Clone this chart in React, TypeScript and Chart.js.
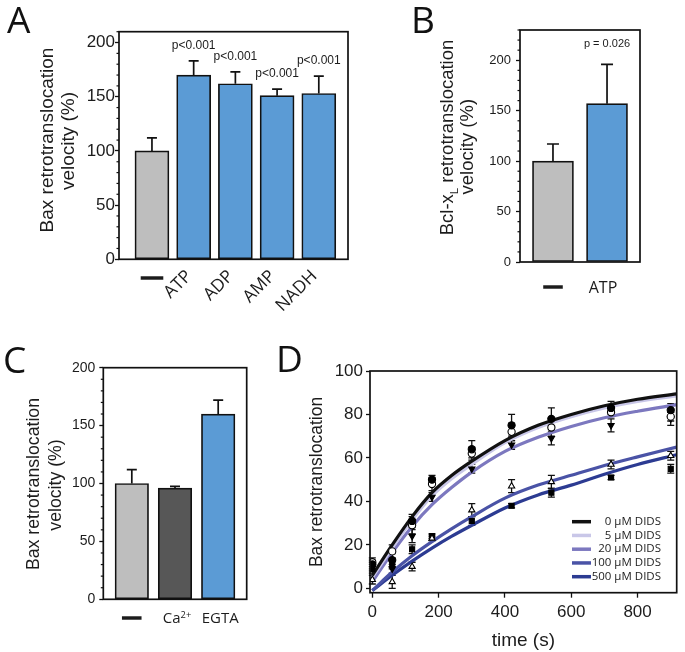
import React, { useEffect, useRef } from 'react';
import { Chart, registerables } from 'chart.js';

Chart.register(...registerables);

const SANS = "'Liberation Sans', Arial, Helvetica, sans-serif";
const MYR = "'Open Sans', 'Liberation Sans', sans-serif";
const INK = '#1c1c1c';
const GRAY = '#bebebe';
const DARK = '#575757';
const BLUE = '#5b9bd5';

// ---------- Panel A ----------
const aCategories = ['—', 'ATP', 'ADP', 'AMP', 'NADH'];
const aValues = [100, 170, 162, 151, 153];
const aErrors = [12, 13, 11, 6, 16];
const aPLabels = ['', 'p<0.001', 'p<0.001', 'p<0.001', 'p<0.001'];
const aColors = [GRAY, BLUE, BLUE, BLUE, BLUE];
const aYTitle = ['Bax retrotranslocation', 'velocity (%)'];

// ---------- Panel B ----------
const bCategories = ['—', 'ATP'];
const bValues = [100, 157];
const bErrors = [17, 39];
const bPLabels = ['', 'p = 0.026'];
const bColors = [GRAY, BLUE];
const bYTitleMain = ['Bcl-x', 'L', ' retrotranslocation']; // middle part is a subscript
const bYTitleSecond = 'velocity (%)';

// ---------- Panel C ----------
const cCategories = ['—', 'Ca²⁺', 'EGTA'];
const cValues = [100, 96, 160];
const cErrors = [12, 1.5, 12];
const cColors = [GRAY, DARK, BLUE];
const cYTitle = ['Bax retrotranslocation', 'velocity (%)'];

// ---------- Panel D ----------
const dTimes = [0, 60, 120, 180, 300, 420, 540, 720, 900];
const dSeries = ['0 µM DIDS', '5 µM DIDS', '20 µM DIDS', '100 µM DIDS', '500 µM DIDS'];
const dMean0 = [11, 13, 31, 50, 64, 75, 78, 83, 82];
const dMean5 = [12, 17, 29, 48, 62, 72, 74, 81, 79];
const dMean20 = [10, 9, 24, 42, 55, 66, 69, 75, 78];
const dMean100 = [4, 3, 10, 23, 36, 47, 49, 57, 61];
const dMean500 = [9, 11, 18, 24, 31, 38, 44, 51, 55];
const dErr0 = [2, 3, 3, 2, 4, 5, 5, 3, 3];
const dErr5 = [2, 3, 4, 3, 3, 4, 4, 2, 2];
const dErr20 = [2, 2, 3, 2, 2, 2, 3, 3, 3];
const dErr100 = [2, 3, 2, 1, 3, 3, 3, 2, 2];
const dErr500 = [2, 2, 2, 1, 2, 1, 2, 1, 2];
const dFitTimes = [0, 60, 120, 180, 240, 300, 400, 500, 600, 700, 800, 918];
const dFit0 = [6, 20, 33, 44, 52, 58.5, 68, 75, 80, 84, 87, 89.5];
const dFit5 = [5, 18.5, 31.5, 42.5, 50.5, 57, 67, 74, 79, 83, 86, 88.5];
const dFit20 = [3, 16.5, 28.5, 38.5, 46.5, 53.5, 63, 69.5, 74.5, 78.5, 81.5, 84.5];
const dFit100 = [-1, 7.5, 15, 21.5, 27.5, 33, 41.5, 47.5, 52, 56.5, 60.5, 65];
const dFit500 = [-1, 6, 12.5, 18.5, 24, 29, 37, 43, 47.5, 52.5, 57, 61.5];
const dYTitle = 'Bax retrotranslocation';
const dXTitle = 'time (s)';

const dMeans = [dMean0, dMean5, dMean20, dMean100, dMean500];
const dErrs = [dErr0, dErr5, dErr20, dErr100, dErr500];
const dFits = [dFit0, dFit5, dFit20, dFit100, dFit500];
const dColors = ['#111111', '#c9c7e8', '#7c78bf', '#4a53a6', '#2c3b92'];
const dStyles = ['circle', 'circle', 'triangle', 'triangle', 'rect'];
const dFills = ['#000', '#fff', '#000', '#fff', '#000'];
const dRot = [0, 0, 180, 0, 0];

// ---------- drawing helpers ----------
type Seg = { t: string; sub?: boolean; sup?: boolean };
const SUPMAP: Record<string, string> = { '²': '2', '³': '3', '⁺': '+', '⁻': '-' };

function toSegs(s: string): Seg[] {
  const out: Seg[] = [];
  for (const ch of s) {
    const sup = ch in SUPMAP;
    const t = sup ? SUPMAP[ch] : ch;
    const last = out[out.length - 1];
    if (last && !!last.sup === sup) last.t += t;
    else out.push({ t, sup });
  }
  return out;
}

function drawRich(
  ctx: CanvasRenderingContext2D, segs: Seg[], cx: number, cy: number, size: number,
  family: string, rot = 0, align: 'center' | 'right' = 'center', baseOffset = 0.35
) {
  ctx.save();
  ctx.translate(cx, cy);
  ctx.rotate(rot);
  const fontOf = (s: Seg) => `${s.sub || s.sup ? size * 0.62 : size}px ${family}`;
  let total = 0;
  for (const s of segs) { ctx.font = fontOf(s); total += ctx.measureText(s.t).width; }
  let x = align === 'center' ? -total / 2 : -total;
  const base = size * baseOffset;
  ctx.fillStyle = INK;
  ctx.textAlign = 'left';
  ctx.textBaseline = 'alphabetic';
  for (const s of segs) {
    ctx.font = fontOf(s);
    const dy = s.sub ? size * 0.22 : s.sup ? -size * 0.36 : 0;
    ctx.fillText(s.t, x, base + dy);
    x += ctx.measureText(s.t).width;
  }
  ctx.restore();
}

function drawDash(ctx: CanvasRenderingContext2D, text: string, cx: number, cy: number, size: number) {
  ctx.save();
  ctx.font = `bold ${size}px ${SANS}`;
  ctx.fillStyle = INK;
  ctx.strokeStyle = INK;
  ctx.lineWidth = 1.6;
  ctx.textAlign = 'center';
  ctx.textBaseline = 'middle';
  ctx.fillText(text, cx, cy);
  ctx.strokeText(text, cx, cy);
  ctx.restore();
}

function drawLetter(ctx: CanvasRenderingContext2D, letter: string, x: number, baseline: number) {
  ctx.save();
  ctx.font = `37px ${MYR}`;
  ctx.fillStyle = '#111';
  ctx.textAlign = 'left';
  ctx.textBaseline = 'alphabetic';
  ctx.fillText(letter, x, baseline);
  ctx.restore();
}

function drawBox(chart: any) {
  const { ctx, chartArea: a } = chart;
  ctx.save();
  ctx.strokeStyle = '#111';
  ctx.lineWidth = 1.7;
  ctx.strokeRect(a.left, a.top, a.right - a.left, a.bottom - a.top);
  ctx.restore();
}

function drawMinor(chart: any, step: number, major: number, len: number) {
  const { ctx, chartArea: a, scales: { y } } = chart;
  ctx.save();
  ctx.strokeStyle = '#111';
  ctx.lineWidth = 1.2;
  for (let v = Math.ceil(y.min / step) * step; v <= y.max + 1e-9; v += step) {
    if (Math.abs(v / major - Math.round(v / major)) < 1e-6) continue;
    const py = y.getPixelForValue(v);
    ctx.beginPath();
    ctx.moveTo(a.left - len, py);
    ctx.lineTo(a.left, py);
    ctx.stroke();
  }
  ctx.restore();
}

function drawBarErrors(chart: any, values: number[], errors: number[], cap: number) {
  const { ctx, scales: { x, y } } = chart;
  ctx.save();
  ctx.strokeStyle = '#111';
  ctx.lineWidth = 1.7;
  values.forEach((v, i) => {
    const px = x.getPixelForValue(i);
    const y0 = y.getPixelForValue(v);
    const y1 = y.getPixelForValue(v + errors[i]);
    ctx.beginPath();
    ctx.moveTo(px, y0);
    ctx.lineTo(px, y1);
    ctx.moveTo(px - cap, y1);
    ctx.lineTo(px + cap, y1);
    ctx.stroke();
  });
  ctx.restore();
}

function drawPLabels(chart: any, labels: string[], values: number[], errors: number[], size: number, offset: number) {
  const { ctx, scales: { x, y } } = chart;
  ctx.save();
  ctx.font = `${size}px ${SANS}`;
  ctx.fillStyle = INK;
  ctx.textAlign = 'center';
  ctx.textBaseline = 'middle';
  labels.forEach((l, i) => {
    if (!l) return;
    ctx.fillText(l, x.getPixelForValue(i), y.getPixelForValue(values[i] + errors[i]) - offset);
  });
  ctx.restore();
}

function barConfig(o: {
  values: number[]; colors: string[]; xMin: number; xMax: number; yMax: number; thickness: number;
  padTop: number; padRight: number; yWidth: number; xHeight: number; tickSize: number; tickPad: number;
  draw: (chart: any) => void;
}): any {
  return {
    type: 'bar',
    data: {
      datasets: [{
        data: o.values.map((v, i) => ({ x: i, y: v })),
        backgroundColor: o.colors,
        borderColor: '#111',
        borderWidth: 1.7,
        borderSkipped: false,
        barThickness: o.thickness,
      }],
    },
    options: {
      animation: false,
      responsive: false,
      devicePixelRatio: 1,
      layout: { padding: { top: o.padTop, right: o.padRight, left: 0, bottom: 0 } },
      plugins: { legend: { display: false }, tooltip: { enabled: false } },
      scales: {
        x: {
          type: 'linear', min: o.xMin, max: o.xMax, offset: false, bounds: 'data',
          ticks: { display: false },
          grid: { display: false, drawTicks: false, offset: false },
          border: { display: false },
          afterFit: (s: any) => { s.height = o.xHeight; },
        },
        y: {
          type: 'linear', min: 0, max: o.yMax,
          ticks: { stepSize: 50, includeBounds: false, color: INK, padding: o.tickPad, font: { family: SANS, size: o.tickSize } },
          grid: { drawOnChartArea: false, drawTicks: true, tickLength: 4, tickColor: '#111', tickWidth: 1.3 },
          border: { display: false },
          afterFit: (s: any) => { s.width = o.yWidth; },
        },
      },
    },
    plugins: [{ id: 'panelDecor', afterDraw: o.draw }],
  };
}

// ---------- chart configs ----------
const makeA = () => barConfig({
  values: aValues, colors: aColors, xMin: -0.79, xMax: 4.7, yMax: 210, thickness: 34,
  padTop: 31.7, padRight: 4, yWidth: 119, xHeight: 80.7, tickSize: 17, tickPad: 0,
  draw: (chart) => {
    const { ctx, scales: { x } } = chart;
    drawBox(chart);
    drawMinor(chart, 10, 50, 2.5);
    drawBarErrors(chart, aValues, aErrors, 5);
    drawPLabels(chart, aPLabels, aValues, aErrors, 12, 15);
    aCategories.forEach((c, i) => {
      const px = x.getPixelForValue(i);
      if (c === '—') drawDash(ctx, c, px, 277, 21);
      else drawRich(ctx, toSegs(c), px - 1, 277, 17.5, MYR, -Math.PI / 4, 'right', 0);
    });
    drawRich(ctx, toSegs(aYTitle[0]), 46, 140, 19, SANS, -Math.PI / 2);
    drawRich(ctx, toSegs(aYTitle[1]), 69, 141, 19, SANS, -Math.PI / 2, 'center', 0.27);
    drawLetter(ctx, 'A', 7, 33);
  },
});

const makeB = () => barConfig({
  values: bValues, colors: bColors, xMin: -0.61, xMax: 1.61, yMax: 230, thickness: 41,
  padTop: 30, padRight: 45, yWidth: 170, xHeight: 43, tickSize: 13, tickPad: 5,
  draw: (chart) => {
    const { ctx, scales: { x } } = chart;
    drawBox(chart);
    drawMinor(chart, 10, 50, 2.5);
    drawBarErrors(chart, bValues, bErrors, 6);
    drawPLabels(chart, bPLabels, bValues, bErrors, 11, 20);
    bCategories.forEach((c, i) => {
      const px = x.getPixelForValue(i);
      if (c === '—') drawDash(ctx, c, px, 287, 18);
      else drawRich(ctx, toSegs(c), px - 4, 287, 16, MYR);
    });
    drawRich(ctx, [{ t: bYTitleMain[0] }, { t: bYTitleMain[1], sub: true }, { t: bYTitleMain[2] }], 97, 137.5, 18.5, SANS, -Math.PI / 2);
    drawRich(ctx, toSegs(bYTitleSecond), 118.5, 146.7, 18.5, SANS, -Math.PI / 2, 'center', 0.27);
    drawLetter(ctx, 'B', 61, 33);
  },
});

const makeC = () => barConfig({
  values: cValues, colors: cColors, xMin: -0.66, xMax: 2.66, yMax: 200, thickness: 33.5,
  padTop: 57.7, padRight: 13.3, yWidth: 103.3, xHeight: 52.7, tickSize: 14, tickPad: 4,
  draw: (chart) => {
    const { ctx, scales: { x } } = chart;
    drawBox(chart);
    drawMinor(chart, 10, 50, 2.5);
    drawBarErrors(chart, cValues, cErrors, 5);
    cCategories.forEach((c, i) => {
      const px = x.getPixelForValue(i);
      if (c === '—') drawDash(ctx, c, px, 308, 18);
      else drawRich(ctx, toSegs(c), px + 2, 308, 15, MYR);
    });
    drawRich(ctx, toSegs(cYTitle[0]), 33, 174, 17.7, SANS, -Math.PI / 2);
    drawRich(ctx, toSegs(cYTitle[1]), 56.5, 175, 17.7, SANS, -Math.PI / 2, 'center', 0.27);
    drawLetter(ctx, 'C', 3, 63);
  },
});

const makeD = (): any => {
  const lineSets = dFits.map((f, k) => ({
    type: 'line',
    data: dFitTimes.map((t, i) => ({ x: t, y: f[i] })),
    borderColor: dColors[k],
    borderWidth: 3.2,
    pointRadius: 0,
    cubicInterpolationMode: 'monotone',
    fill: false,
    order: 10 + k,
  }));
  const pointSets = dMeans.map((m, k) => ({
    type: 'line',
    showLine: false,
    data: dTimes.map((t, i) => ({ x: t, y: m[i] })),
    pointStyle: dStyles[k],
    pointRadius: 3.6,
    pointBackgroundColor: dFills[k],
    pointBorderColor: '#000',
    pointBorderWidth: 1.1,
    pointRotation: dRot[k],
    order: k,
  }));
  return {
    type: 'line',
    data: { datasets: [...pointSets, ...lineSets] },
    options: {
      animation: false,
      responsive: false,
      devicePixelRatio: 1,
      layout: { padding: { top: 61, right: 8.3, left: 0, bottom: 0 } },
      plugins: { legend: { display: false }, tooltip: { enabled: false } },
      scales: {
        x: {
          type: 'linear', min: -7, max: 918,
          ticks: { stepSize: 200, includeBounds: false, color: INK, padding: 4, font: { family: SANS, size: 17 } },
          grid: { drawOnChartArea: false, drawTicks: true, tickLength: 5, tickColor: '#111', tickWidth: 1.3 },
          border: { display: false },
          afterFit: (s: any) => { s.height = 59.3; },
        },
        y: {
          type: 'linear', min: -2, max: 100,
          ticks: { stepSize: 20, includeBounds: false, color: INK, padding: 3, font: { family: SANS, size: 17 } },
          grid: { drawOnChartArea: false, drawTicks: true, tickLength: 4, tickColor: '#111', tickWidth: 1.3 },
          border: { display: false },
          afterFit: (s: any) => { s.width = 100; },
        },
      },
    },
    plugins: [{
      id: 'panelD',
      beforeDatasetsDraw: (chart: any) => {
        const { ctx, scales: { x, y } } = chart;
        ctx.save();
        ctx.strokeStyle = '#111';
        ctx.lineWidth = 1.3;
        dMeans.forEach((m, k) => {
          m.forEach((v, i) => {
            const px = x.getPixelForValue(dTimes[i]);
            const lo = y.getPixelForValue(v - dErrs[k][i]);
            const hi = y.getPixelForValue(v + dErrs[k][i]);
            ctx.beginPath();
            ctx.moveTo(px, lo); ctx.lineTo(px, hi);
            ctx.moveTo(px - 3.5, lo); ctx.lineTo(px + 3.5, lo);
            ctx.moveTo(px - 3.5, hi); ctx.lineTo(px + 3.5, hi);
            ctx.stroke();
          });
        });
        ctx.restore();
      },
      afterDraw: (chart: any) => {
        const { ctx, chartArea: a } = chart;
        drawBox(chart);
        ctx.save();
        ctx.font = `11.5px ${MYR}`;
        ctx.textAlign = 'right';
        ctx.textBaseline = 'middle';
        dSeries.forEach((name, k) => {
          const yy = a.bottom - 71 + k * 13.75;
          ctx.strokeStyle = dColors[k];
          ctx.lineWidth = 3.5;
          ctx.beginPath();
          ctx.moveTo(a.left + 202, yy);
          ctx.lineTo(a.left + 221, yy);
          ctx.stroke();
          ctx.fillStyle = INK;
          ctx.fillText(name, a.right - 15.7, yy);
        });
        ctx.restore();
        drawRich(ctx, toSegs(dYTitle), 46, 172, 17.5, SANS, -Math.PI / 2);
        drawRich(ctx, toSegs(dXTitle), (a.left + a.right) / 2, 330, 19, SANS, 0, 'center', 0.3);
        drawLetter(ctx, 'D', 6, 62);
      },
    }],
  };
};

function Panel({ left, top, width, height, make }: { left: number; top: number; width: number; height: number; make: () => any }) {
  const ref = useRef<HTMLCanvasElement | null>(null);
  useEffect(() => {
    if (!ref.current) return;
    const chart = new Chart(ref.current, make());
    return () => chart.destroy();
  }, [make]);
  return (
    <canvas
      ref={ref}
      width={width}
      height={height}
      style={{ position: 'absolute', left, top, width, height }}
    />
  );
}

export default function App() {
  return (
    <div style={{ position: 'absolute', left: 0, top: 0, width: 685, height: 652, background: '#fff', overflow: 'hidden' }}>
      <Panel left={0} top={0} width={352} height={340} make={makeA} />
      <Panel left={350} top={0} width={335} height={305} make={makeB} />
      <Panel left={0} top={310} width={260} height={342} make={makeC} />
      <Panel left={270} top={310} width={415} height={342} make={makeD} />
    </div>
  );
}
